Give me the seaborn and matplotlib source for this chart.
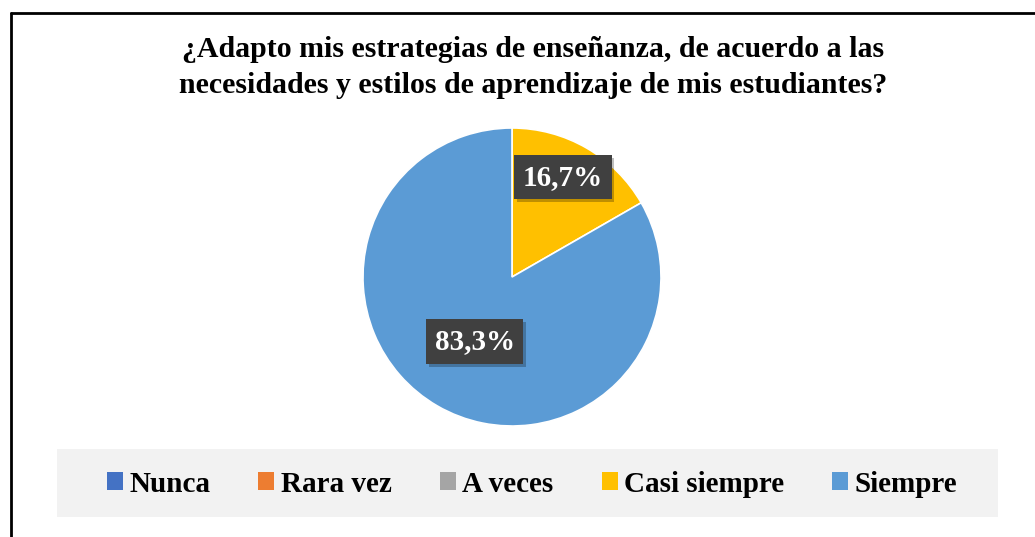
import matplotlib
matplotlib.use("Agg")
import matplotlib.pyplot as plt
import matplotlib.patheffects as pe
from matplotlib.patches import Patch, Rectangle
from matplotlib.lines import Line2D
import numpy as np
import seaborn as sns

categories = ["Nunca", "Rara vez", "A veces", "Casi siempre", "Siempre"]
values = [0.0, 0.0, 0.0, 16.7, 83.3]
colors = ["#4472C4", "#ED7D31", "#A5A5A5", "#FFC000", "#5B9BD5"]
title = ("¿Adapto mis estrategias de enseñanza, de acuerdo a las\n"
         "necesidades y estilos de aprendizaje de mis estudiantes?")

sns.set_theme(style="white")
plt.rcParams["font.family"] = ["Liberation Serif", "DejaVu Serif"]
plt.rcParams["text.color"] = "black"

W, H = 1035, 537
fig = plt.figure(figsize=(W / 100, H / 100), dpi=100)
fig.patch.set_facecolor("white")

# frame of the chart (only top and left edges visible)
fig.add_artist(Line2D([11 / W, 11 / W], [0, 1 - 13 / H], color="black", lw=2.0,
                      transform=fig.transFigure))
fig.add_artist(Line2D([11 / W, 1], [1 - 13 / H, 1 - 13 / H], color="black", lw=2.0,
                      transform=fig.transFigure))

fig.text(533 / W, 1 - 36 / H, title, ha="center", va="top", fontsize=21.5,
         fontweight="bold", linespacing=1.45, color="black")

# pie
cx, cy, r = 512, 277, 149
ax = fig.add_axes([(cx - r) / W, (H - cy - r) / H, 2 * r / W, 2 * r / H])
palette = sns.color_palette(colors)
wedges, _ = ax.pie(values, colors=palette, startangle=90, counterclock=False,
                   wedgeprops=dict(edgecolor="white", linewidth=1.2))
for w in wedges:
    w.set_path_effects([pe.SimplePatchShadow(offset=(0, 0), shadow_rgbFace="#bbbbbb",
                                             alpha=0.6), pe.Normal()])
ax.set_xlim(-1, 1)
ax.set_ylim(-1, 1)
ax.set_aspect("equal")
ax.axis("off")

# label distance from centre and small nudge, per slice
label_pos = {"Casi siempre": (0.74, -0.03, 0.03), "Siempre": (0.5, 0.0, 0.0)}
for w, cat, v in zip(wedges, categories, values):
    if v <= 0:
        continue
    ang = np.deg2rad((w.theta1 + w.theta2) / 2)
    d, dx, dy = label_pos.get(cat, (0.6, 0, 0))
    t = ax.text(d * np.cos(ang) + dx, d * np.sin(ang) + dy, f"{v:.1f}%".replace(".", ","),
                ha="center", va="center", color="white", fontsize=21,
                fontweight="bold",
                bbox=dict(boxstyle="square,pad=0.3", facecolor="#404040",
                          edgecolor="none"))
    t.get_bbox_patch().set_path_effects([
        pe.SimplePatchShadow(offset=(2, -2), shadow_rgbFace="#000000", alpha=0.25),
        pe.Normal()])

# legend background
fig.add_artist(Rectangle((57 / W, (H - 517) / H), (998 - 57) / W, 68 / H,
                         facecolor="#F2F2F2", edgecolor="none",
                         transform=fig.transFigure, zorder=0))
handles = [Patch(facecolor=c, edgecolor="none", label=l) for c, l in zip(colors, categories)]
leg = fig.legend(handles=handles, loc="center", bbox_to_anchor=(532 / W, (H - 484) / H),
                 ncol=5, frameon=False, prop=dict(weight="bold", size=21),
                 handlelength=0.55, handleheight=0.55, handletextpad=0.22,
                 columnspacing=1.65)
for txt in leg.get_texts():
    txt.set_color("black")

fig.savefig("out.png", dpi=100, facecolor="white")
